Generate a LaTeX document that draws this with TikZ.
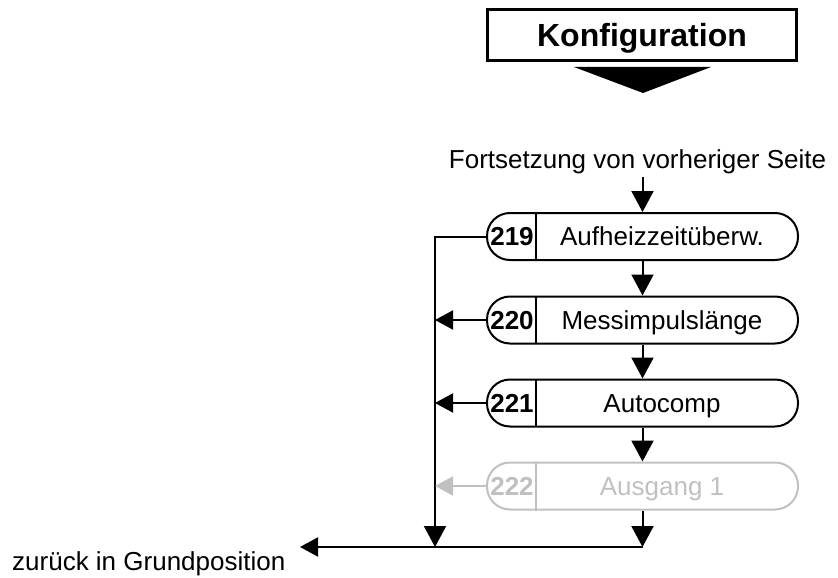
\documentclass[tikz,border=0pt]{standalone}
\usepackage{fontspec}
\setmainfont{Liberation Sans}
\usetikzlibrary{arrows.meta}
\definecolor{lightg}{RGB}{192,192,192}
\begin{document}
\begin{tikzpicture}[x=1pt,y=-1pt,
  stadium/.style={draw, line width=2pt, rounded corners=23pt, minimum width=311pt, minimum height=47pt, inner sep=0pt},
  numtxt/.style={inner sep=0pt, font=\fontsize{26}{30}\selectfont\bfseries, text height=18.6pt, text depth=0pt},
  lbltxt/.style={inner sep=0pt, font=\fontsize{26}{30}\selectfont, text height=18.6pt, text depth=0pt},
  plaintxt/.style={inner sep=0pt, font=\fontsize{26}{30}\selectfont},
  arr/.style={line width=2pt, -{Triangle[length=21pt,width=22pt]}},
  sarr/.style={line width=2pt, -{Triangle[length=18pt,width=19pt]}},
  divider/.style={line width=2pt}
]
\useasboundingbox (0,0) rectangle (838,578);

% title box
\node[draw, line width=3pt, minimum width=309pt, minimum height=51pt, inner sep=0pt,
      font=\fontsize{32}{36}\selectfont\bfseries, text height=24pt, text depth=0pt] (konf) at (642,35) {Konfiguration};
\fill (574,67) -- (711,67) -- (643,93) -- cycle;

% continuation text
\node[plaintxt, anchor=base, outer sep=4pt] (fort) at (637.5,168) {Fortsetzung von vorheriger Seite};

% parameter nodes
\node[stadium] (n219) at (642.5,236.5) {};
\node[stadium] (n220) at (642.5,320) {};
\node[stadium] (n221) at (642.5,403) {};
\node[stadium, draw=lightg] (n222) at (642.5,486) {};

\foreach \n in {219,220,221} {
  \draw[divider] (n\n.north west) ++(50,0) -- ++(0,47);
}
\draw[divider, lightg] (n222.north west) ++(50,0) -- ++(0,49);

\node[numtxt] (num219) at (512,236.5) {219};
\node[numtxt] (num220) at (512,320) {220};
\node[numtxt] (num221) at (512,403) {221};
\node[numtxt, text=lightg] (num222) at (512,486) {222};

\node[lbltxt] (t219) at (662,236.5) {Aufheizzeitüberw.};
\node[lbltxt] (t220) at (662,320) {Messimpulslänge};
\node[lbltxt] (t221) at (662,403) {Autocomp};
\node[lbltxt, text=lightg] (t222) at (662,486) {Ausgang 1};

% return text
\node[plaintxt, anchor=base west] (back) at (12,570) {zurück in Grundposition};

\coordinate (L) at (435,547);
\coordinate (R) at (642.5,547);
\coordinate (B) at (300,547);

% main flow
\draw[arr] (fort.south -| n219.north) -- (n219.north);
\draw[arr] (n219) -- (n220);
\draw[arr] (n220) -- (n221);
\draw[arr] (n221) -- (n222);
\draw[arr] (n222) -- (R);

% returns
\draw[arr] (n219.west) -| (L);
\draw[sarr] (n220.west) -- (n220.west -| L);
\draw[sarr] (n221.west) -- (n221.west -| L);
\draw[sarr, lightg] (n222.west) -- (n222.west -| L);
\draw[sarr] (R) -- (B);
\end{tikzpicture}
\end{document}
